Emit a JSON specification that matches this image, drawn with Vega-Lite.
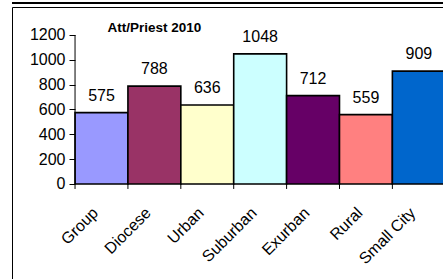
{
  "$schema": "https://vega.github.io/schema/vega-lite/v6.json",
  "autosize": "none",
  "padding": {"left": 12, "top": 7, "right": 0, "bottom": 0},
  "width": 476,
  "height": 283,
  "background": "white",
  "config": {
    "font": "Liberation Sans",
    "view": {"stroke": "black", "strokeWidth": 1}
  },
  "data": {
    "values": [
      {"category": "Group", "value": 575},
      {"category": "Diocese", "value": 788},
      {"category": "Urban", "value": 636},
      {"category": "Suburban", "value": 1048},
      {"category": "Exurban", "value": 712},
      {"category": "Rural", "value": 559},
      {"category": "Small City", "value": 909}
    ]
  },
  "layer": [
    {
      "mark": {"type": "bar", "stroke": "black", "strokeWidth": 1.6},
      "encoding": {
        "x": {
          "field": "category",
          "type": "nominal",
          "sort": null,
          "scale": {"paddingInner": 0, "paddingOuter": 1, "align": 0.596},
          "axis": {
            "orient": "bottom",
            "offset": -106,
            "ticks": false,
            "domain": false,
            "title": null,
            "labelAngle": -45,
            "labelAlign": "right",
            "labelBaseline": "middle",
            "labelPadding": 26,
            "labelOffset": -6,
            "labelFontSize": 16,
            "labelColor": "black"
          }
        },
        "y": {
          "field": "value",
          "type": "quantitative",
          "scale": {"domain": [-853.7, 1425.5], "zero": false, "nice": false},
          "axis": {
            "values": [0, 200, 400, 600, 800, 1000, 1200],
            "format": "d",
            "offset": -63,
            "domain": false,
            "grid": false,
            "tickSize": 6,
            "tickColor": "black",
            "labelPadding": 4,
            "labelFontSize": 16,
            "labelColor": "black",
            "title": null
          }
        },
        "color": {
          "field": "category",
          "type": "nominal",
          "scale": {
            "domain": ["Group", "Diocese", "Urban", "Suburban", "Exurban", "Rural", "Small City"],
            "range": ["#9999FF", "#993366", "#FFFFCC", "#CCFFFF", "#660066", "#FF8080", "#0066CC"]
          },
          "legend": null
        }
      }
    },
    {
      "mark": {"type": "text", "baseline": "alphabetic", "dy": -12, "fontSize": 16, "color": "black"},
      "encoding": {
        "x": {"field": "category", "type": "nominal", "sort": null},
        "y": {"field": "value", "type": "quantitative"},
        "text": {"field": "value", "type": "quantitative"}
      }
    },
    {
      "mark": {"type": "rule", "color": "black", "strokeWidth": 1},
      "encoding": {
        "x": {"field": "category", "type": "nominal", "sort": null, "bandPosition": 0},
        "y": {"datum": 0},
        "y2": {"datum": -40}
      }
    },
    {
      "data": {"values": [{"category": "Group"}]},
      "mark": {"type": "rule", "color": "black", "strokeWidth": 1},
      "encoding": {
        "x": {"field": "category", "type": "nominal", "sort": null, "bandPosition": 0},
        "y": {"datum": 0},
        "y2": {"datum": 1200}
      }
    },
    {
      "data": {"values": [{"category": "Diocese", "label": "Att/Priest 2010"}]},
      "mark": {"type": "text", "fontWeight": "bold", "fontSize": 13.5, "baseline": "middle", "color": "black"},
      "encoding": {
        "x": {"field": "category", "type": "nominal", "sort": null},
        "y": {"datum": 1256},
        "text": {"field": "label"}
      }
    },
    {
      "data": {"values": [{"edge": "top"}]},
      "mark": {"type": "rule", "color": "black", "strokeWidth": 2},
      "encoding": {
        "y": {"datum": 1458}
      }
    }
  ]
}
